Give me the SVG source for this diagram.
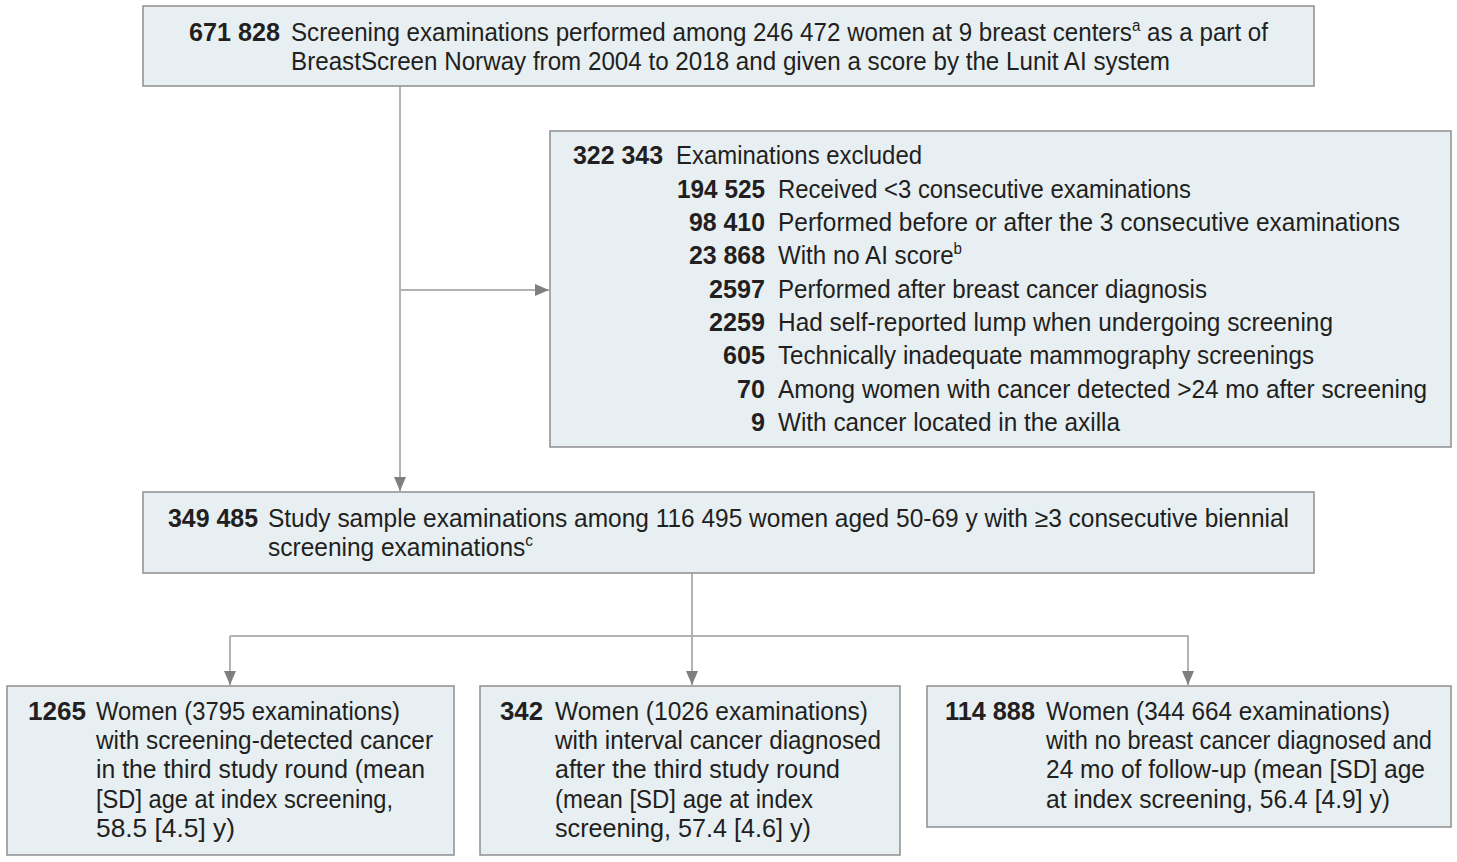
<svg xmlns="http://www.w3.org/2000/svg" width="1457" height="862" viewBox="0 0 1457 862">
<style>
.box{fill:#e7eff3;stroke:#8e8e8e;stroke-width:1.5}
text{font-family:"Liberation Sans",Arial,sans-serif;font-size:25.5px;fill:#231f20}
.b{font-weight:bold}
.sup{font-size:16px}
.con{fill:none;stroke:#b3b3b3;stroke-width:2}
</style>
<defs>
<marker id="arr" viewBox="0 0 14 12" refX="14" refY="6" markerWidth="14" markerHeight="12" markerUnits="userSpaceOnUse" orient="auto">
<path d="M0,0 L14,6 L0,12 Z" fill="#7f7f7f"/>
</marker>
</defs>
<rect width="1457" height="862" fill="#ffffff"/>
<g id="connectors">
<path class="con" d="M400 86 V491" marker-end="url(#arr)"/>
<path class="con" d="M400 290 H549" marker-end="url(#arr)"/>
<path class="con" d="M692 573 V685" marker-end="url(#arr)"/>
<path class="con" d="M230 636 H1188 V685" marker-end="url(#arr)"/>
<path class="con" d="M230 636 V685" marker-end="url(#arr)"/>
</g>
<g id="n1">
<rect class="box" x="143" y="6" width="1171" height="80"/>
<text class="b" x="189" y="41" textLength="91" lengthAdjust="spacingAndGlyphs">671 828</text>
<text x="291" y="41" textLength="977" lengthAdjust="spacingAndGlyphs">Screening examinations performed among 246 472 women at 9 breast centers<tspan class="sup" dy="-10">a</tspan><tspan dy="10"> as a part of</tspan></text>
<text x="291" y="70" textLength="879" lengthAdjust="spacingAndGlyphs">BreastScreen Norway from 2004 to 2018 and given a score by the Lunit AI system</text>
</g>
<g id="n2">
<rect class="box" x="550" y="131" width="901" height="316"/>
<text class="b" x="573" y="164" textLength="90" lengthAdjust="spacingAndGlyphs">322 343</text>
<text x="676" y="164" textLength="246" lengthAdjust="spacingAndGlyphs">Examinations excluded</text>
<text class="b" x="677" y="198" textLength="88" lengthAdjust="spacingAndGlyphs">194 525</text>
<text x="778" y="198" textLength="413" lengthAdjust="spacingAndGlyphs">Received &lt;3 consecutive examinations</text>
<text class="b" x="689" y="231" textLength="76" lengthAdjust="spacingAndGlyphs">98 410</text>
<text x="778" y="231" textLength="622" lengthAdjust="spacingAndGlyphs">Performed before or after the 3 consecutive examinations</text>
<text class="b" x="689" y="264" textLength="76" lengthAdjust="spacingAndGlyphs">23 868</text>
<text x="778" y="264" textLength="184" lengthAdjust="spacingAndGlyphs">With no AI score<tspan class="sup" dy="-10">b</tspan></text>
<text class="b" x="709" y="298" textLength="56" lengthAdjust="spacingAndGlyphs">2597</text>
<text x="778" y="298" textLength="429" lengthAdjust="spacingAndGlyphs">Performed after breast cancer diagnosis</text>
<text class="b" x="709" y="331" textLength="56" lengthAdjust="spacingAndGlyphs">2259</text>
<text x="778" y="331" textLength="555" lengthAdjust="spacingAndGlyphs">Had self-reported lump when undergoing screening</text>
<text class="b" x="723" y="364" textLength="42" lengthAdjust="spacingAndGlyphs">605</text>
<text x="778" y="364" textLength="536" lengthAdjust="spacingAndGlyphs">Technically inadequate mammography screenings</text>
<text class="b" x="737" y="398" textLength="28" lengthAdjust="spacingAndGlyphs">70</text>
<text x="778" y="398" textLength="649" lengthAdjust="spacingAndGlyphs">Among women with cancer detected &gt;24 mo after screening</text>
<text class="b" x="751" y="431" textLength="14" lengthAdjust="spacingAndGlyphs">9</text>
<text x="778" y="431" textLength="342" lengthAdjust="spacingAndGlyphs">With cancer located in the axilla</text>
</g>
<g id="n3">
<rect class="box" x="143" y="492" width="1171" height="81"/>
<text class="b" x="168" y="527" textLength="90" lengthAdjust="spacingAndGlyphs">349 485</text>
<text x="268" y="527" textLength="1021" lengthAdjust="spacingAndGlyphs">Study sample examinations among 116 495 women aged 50-69 y with ≥3 consecutive biennial</text>
<text x="268" y="556" textLength="265" lengthAdjust="spacingAndGlyphs">screening examinations<tspan class="sup" dy="-10">c</tspan></text>
</g>
<g id="n4">
<rect class="box" x="7" y="686" width="447" height="169"/>
<text class="b" x="28" y="720" textLength="58" lengthAdjust="spacingAndGlyphs">1265</text>
<text x="96" y="720" textLength="304" lengthAdjust="spacingAndGlyphs">Women (3795 examinations)</text>
<text x="96" y="749" textLength="337" lengthAdjust="spacingAndGlyphs">with screening-detected cancer</text>
<text x="96" y="778" textLength="329" lengthAdjust="spacingAndGlyphs">in the third study round (mean</text>
<text x="96" y="808" textLength="297" lengthAdjust="spacingAndGlyphs">[SD] age at index screening,</text>
<text x="96" y="837" textLength="139" lengthAdjust="spacingAndGlyphs">58.5 [4.5] y)</text>
</g>
<g id="n5">
<rect class="box" x="480" y="686" width="420" height="169"/>
<text class="b" x="500" y="720" textLength="43" lengthAdjust="spacingAndGlyphs">342</text>
<text x="555" y="720" textLength="313" lengthAdjust="spacingAndGlyphs">Women (1026 examinations)</text>
<text x="555" y="749" textLength="326" lengthAdjust="spacingAndGlyphs">with interval cancer diagnosed</text>
<text x="555" y="778" textLength="285" lengthAdjust="spacingAndGlyphs">after the third study round</text>
<text x="555" y="808" textLength="258" lengthAdjust="spacingAndGlyphs">(mean [SD] age at index</text>
<text x="555" y="837" textLength="256" lengthAdjust="spacingAndGlyphs">screening, 57.4 [4.6] y)</text>
</g>
<g id="n6">
<rect class="box" x="927" y="686" width="524" height="141"/>
<text class="b" x="945" y="720" textLength="90" lengthAdjust="spacingAndGlyphs">114 888</text>
<text x="1046" y="720" textLength="344" lengthAdjust="spacingAndGlyphs">Women (344 664 examinations)</text>
<text x="1046" y="749" textLength="386" lengthAdjust="spacingAndGlyphs">with no breast cancer diagnosed and</text>
<text x="1046" y="778" textLength="379" lengthAdjust="spacingAndGlyphs">24 mo of follow-up (mean [SD] age</text>
<text x="1046" y="808" textLength="344" lengthAdjust="spacingAndGlyphs">at index screening, 56.4 [4.9] y)</text>
</g>
</svg>
